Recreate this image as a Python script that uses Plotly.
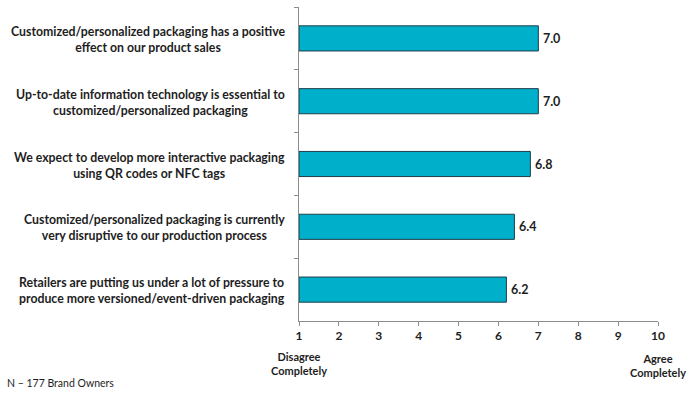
import plotly.graph_objects as go

categories = [
    "Customized/personalized packaging has a positive<br>effect on our product sales",
    "Up-to-date information technology is essential to<br>customized/personalized packaging",
    "We expect to develop more interactive packaging<br>using QR codes or NFC tags",
    "Customized/personalized packaging is currently<br>very disruptive to our production process",
    "Retailers are putting us under a lot of pressure to<br>produce more versioned/event-driven packaging",
]
values = [7.0, 7.0, 6.8, 6.4, 6.2]
scale_min = 1
tick_vals = list(range(1, 11))

FONT = "Lato"
TXT = "#1e1e1e"

fig = go.Figure()
fig.add_trace(go.Bar(
    y=categories,
    x=[v - scale_min for v in values],
    base=scale_min,
    orientation="h",
    width=0.4,
    marker=dict(color="#00B0CA", line=dict(color="#1d3d4a", width=1)),
    text=[f"\u2009{v:.1f}" for v in values],
    textposition="outside",
    textfont=dict(family=FONT, size=12.5, color=TXT, weight="bold"),
    cliponaxis=False,
    hoverinfo="skip",
))

for c in categories:
    fig.add_annotation(
        x=0, xref="paper", y=c, yref="y",
        text=c, showarrow=False, xanchor="right", align="center",
        xshift=-12, yshift=-1,
        font=dict(family=FONT, size=12.3, color=TXT, weight="bold"),
    )

fig.add_annotation(x=1, xref="x", y=-0.085, yref="paper", yanchor="top",
                   text="Disagree<br>Completely", showarrow=False, align="center",
                   font=dict(family=FONT, size=11, color=TXT, weight="bold"))
fig.add_annotation(x=10, xref="x", y=-0.093, yref="paper", yanchor="top",
                   text="Agree<br>Completely", showarrow=False, align="center",
                   font=dict(family=FONT, size=11, color=TXT, weight="bold"))
fig.add_annotation(x=-294/359, xref="paper", y=-70/314, yref="paper",
                   text="N \u2013 177 Brand Owners", showarrow=False,
                   xanchor="left", yanchor="bottom",
                   font=dict(family=FONT, size=10.5, color=TXT))

fig.update_layout(
    width=700, height=397,
    margin=dict(l=299, r=42, t=7, b=76),
    paper_bgcolor="white", plot_bgcolor="white",
    showlegend=False,
    bargap=0.6,
    xaxis=dict(range=[1, 10], tickvals=tick_vals, showgrid=False, zeroline=False,
               showline=True, linecolor="#8c8c8c", linewidth=1,
               ticks="outside", ticklen=4, tickcolor="#8c8c8c",
               tickfont=dict(family=FONT, size=12, color=TXT, weight="bold")),
    yaxis=dict(autorange="reversed", showticklabels=False, showgrid=False,
               showline=True, linecolor="#8c8c8c", linewidth=1,
               ticks="outside", ticklen=4, tickcolor="#8c8c8c",
               tickson="boundaries"),
)

fig.write_html("out.html", config={"displayModeBar": False},
               post_script="document.body.style.margin='0';document.body.style.padding='0';")
